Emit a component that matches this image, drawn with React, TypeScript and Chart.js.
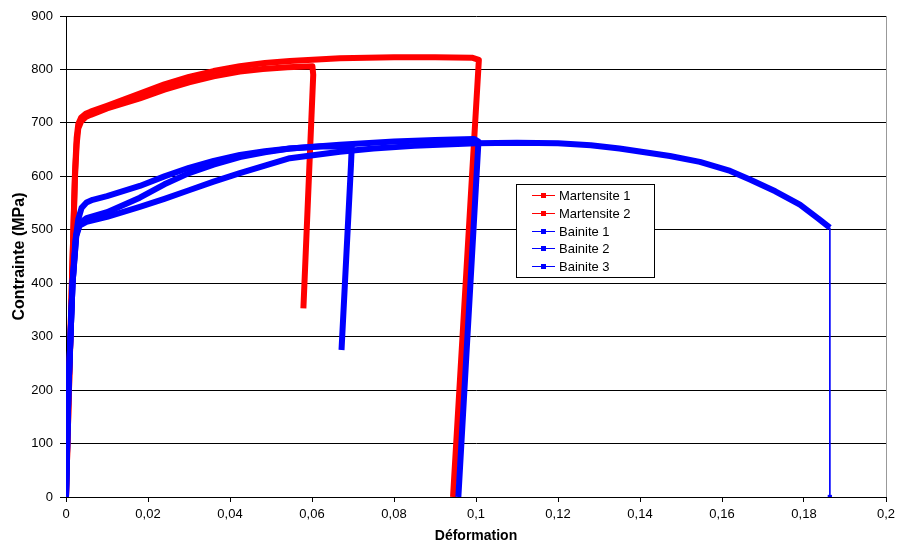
import React, { useEffect, useRef } from "react";
import { Chart, registerables } from "chart.js";

Chart.register(...registerables);

const FONT = '"Liberation Sans", Arial, sans-serif';

const xTickValues = [0, 0.02, 0.04, 0.06, 0.08, 0.1, 0.12, 0.14, 0.16, 0.18, 0.2];
const yTickValues = [0, 100, 200, 300, 400, 500, 600, 700, 800, 900];

const seriesNames = ["Martensite 1", "Martensite 2", "Bainite 1", "Bainite 2", "Bainite 3"];
const seriesColors = ["#FF0000", "#FF0000", "#0000FF", "#0000FF", "#0000FF"];

const martensite1: [number, number][] = [
  [0, 0], [0.0009, 250], [0.0018, 500], [0.0022, 600], [0.0026, 660], [0.003, 690],
  [0.0037, 703], [0.0048, 711], [0.006, 715], [0.01, 727], [0.018, 746], [0.024, 762],
  [0.03, 776], [0.036, 787], [0.0424, 796], [0.048, 801], [0.054, 804], [0.0601, 806],
  [0.0603, 790], [0.0579, 353],
];

const martensite2: [number, number][] = [
  [0, 0], [0.0009, 250], [0.0018, 500], [0.0022, 610], [0.0026, 672], [0.003, 698],
  [0.0037, 710], [0.0048, 717], [0.006, 721], [0.01, 732], [0.018, 755], [0.024, 772],
  [0.03, 786], [0.036, 797], [0.0424, 806], [0.0485, 812], [0.0546, 816], [0.0668, 821],
  [0.08, 823], [0.09, 823], [0.099, 822], [0.1007, 818], [0.0944, 0],
];

const bainite1: [number, number][] = [
  [0, 0], [0.0006, 200], [0.0016, 400], [0.0023, 480], [0.003, 520], [0.0038, 541],
  [0.005, 551], [0.0065, 556], [0.01, 563], [0.018, 582], [0.024, 600], [0.03, 616],
  [0.036, 629], [0.0424, 640], [0.0485, 647], [0.0546, 652], [0.062, 656], [0.0697, 656],
  [0.0695, 620], [0.0672, 275],
];

const bainite2: [number, number][] = [
  [0, 0], [0.0006, 200], [0.0016, 400], [0.0025, 490], [0.0033, 512], [0.005, 522],
  [0.01, 533], [0.018, 560], [0.024, 585], [0.03, 606], [0.036, 622], [0.0424, 636],
  [0.0485, 645], [0.0546, 652], [0.0668, 659], [0.08, 665], [0.09, 668], [0.0995, 670],
  [0.1006, 665], [0.0957, 0],
];

const bainite3: [number, number][] = [
  [0, 0], [0.0006, 200], [0.0016, 400], [0.0025, 488], [0.0033, 508], [0.005, 515],
  [0.01, 524], [0.018, 543], [0.024, 558], [0.03, 574], [0.036, 590], [0.0424, 606],
  [0.0485, 620], [0.0546, 634], [0.0668, 646], [0.075, 652], [0.085, 657], [0.1, 662],
  [0.11, 663], [0.12, 662], [0.128, 658], [0.135, 652], [0.1473, 638], [0.1546, 627],
  [0.162, 610], [0.1668, 594], [0.173, 572], [0.179, 547], [0.1835, 521], [0.1863, 504],
  [0.1863, 0],
];

const seriesData = [martensite1, martensite2, bainite1, bainite2, bainite3];

const fmtX = (v: number) => {
  const r = Math.round(v * 100) / 100;
  return String(r).replace(".", ",");
};

const legendPlugin = {
  id: "boxLegend",
  beforeDatasetsDraw(chart: any) {
    const { ctx, chartArea } = chart;
    ctx.save();
    ctx.strokeStyle = "#999";
    ctx.lineWidth = 1;
    ctx.beginPath();
    ctx.moveTo(Math.round(chartArea.right) + 0.5, chartArea.top);
    ctx.lineTo(Math.round(chartArea.right) + 0.5, chartArea.bottom);
    ctx.stroke();
    ctx.restore();
  },
  afterDraw(chart: any) {
    const { ctx, chartArea } = chart;
    const x0 = Math.round(chartArea.left + 450);
    const y0 = Math.round(chartArea.top + 168);
    const w = 138;
    const h = 93;
    ctx.save();
    ctx.fillStyle = "#fff";
    ctx.fillRect(x0, y0, w, h);
    ctx.strokeStyle = "#000";
    ctx.lineWidth = 1;
    ctx.strokeRect(x0 + 0.5, y0 + 0.5, w, h);
    ctx.font = `13px ${FONT}`;
    ctx.textBaseline = "middle";
    ctx.textAlign = "left";
    seriesNames.forEach((name, i) => {
      const cy = Math.round(y0 + 11 + i * 17.8) + 0.5;
      ctx.strokeStyle = seriesColors[i];
      ctx.lineWidth = 1;
      ctx.beginPath();
      ctx.moveTo(x0 + 16, cy);
      ctx.lineTo(x0 + 39, cy);
      ctx.stroke();
      ctx.fillStyle = seriesColors[i];
      ctx.fillRect(x0 + 25, cy - 2.5, 5, 5);
      ctx.fillStyle = "#000";
      ctx.fillText(name, x0 + 43, cy + 0.5);
    });
    ctx.restore();
  },
};

export default function App() {
  const ref = useRef<HTMLCanvasElement | null>(null);

  useEffect(() => {
    document.body.style.margin = "0";
    const canvas = ref.current;
    if (!canvas) return;

    const datasets = seriesData.map((arr, i) => {
      const last = arr.length - 1;
      const isLastThin = i === 4;
      return {
        label: seriesNames[i],
        data: arr.map(([x, y]) => ({ x, y })),
        showLine: true,
        borderColor: seriesColors[i],
        backgroundColor: seriesColors[i],
        borderWidth: 6,
        borderJoinStyle: "round" as const,
        tension: 0,
        order: i < 2 ? 1 : 0,
        pointStyle: "rect" as const,
        pointRadius: (c: any) => (isLastThin && c.dataIndex === last ? 3 : 0),
        pointBorderWidth: 0,
        segment: isLastThin
          ? { borderWidth: (c: any) => (c.p1DataIndex === last ? 1 : 6) }
          : undefined,
      };
    });

    const chart = new Chart(canvas, {
      type: "scatter",
      data: { datasets },
      options: {
        responsive: false,
        animation: false,
        devicePixelRatio: 1,
        layout: { padding: { left: 0, top: 16, right: 17, bottom: 0 } },
        plugins: { legend: { display: false }, tooltip: { enabled: false } },
        scales: {
          x: {
            type: "linear",
            min: 0,
            max: 0.2,
            afterBuildTicks: (s: any) => {
              s.ticks = xTickValues.map((v) => ({ value: v }));
            },
            ticks: {
              callback: (v: any) => fmtX(Number(v)),
              color: "#000",
              font: { family: FONT, size: 13 },
              padding: 5,
              maxRotation: 0,
              autoSkip: false,
            },
            grid: { display: true, drawOnChartArea: false, drawTicks: true, tickLength: 5, color: "#000" },
            border: { color: "#000" },
            title: {
              display: true,
              text: "Déformation",
              color: "#000",
              font: { family: FONT, size: 14, weight: "bold" },
              padding: { top: 0, bottom: 6 },
            },
            afterFit: (s: any) => {
              s.height = 54;
            },
          },
          y: {
            type: "linear",
            min: 0,
            max: 900,
            afterBuildTicks: (s: any) => {
              s.ticks = yTickValues.map((v) => ({ value: v }));
            },
            ticks: {
              callback: (v: any) => String(v),
              color: "#000",
              font: { family: FONT, size: 13 },
              padding: 7,
            },
            grid: { color: "#000", tickLength: 6, lineWidth: 1 },
            border: { color: "#000" },
            title: {
              display: true,
              text: "Contrainte (MPa)",
              color: "#000",
              font: { family: FONT, size: 16, weight: "bold" },
              padding: { top: 10, bottom: 0 },
            },
            afterFit: (s: any) => {
              s.width = 66;
            },
          },
        },
      },
      plugins: [legendPlugin],
    } as any);

    return () => chart.destroy();
  }, []);

  return (
    <div style={{ position: "fixed", left: 0, top: 0, width: 903, height: 551, background: "#fff" }}>
      <canvas ref={ref} width={903} height={551} style={{ display: "block", width: 903, height: 551 }} />
    </div>
  );
}
